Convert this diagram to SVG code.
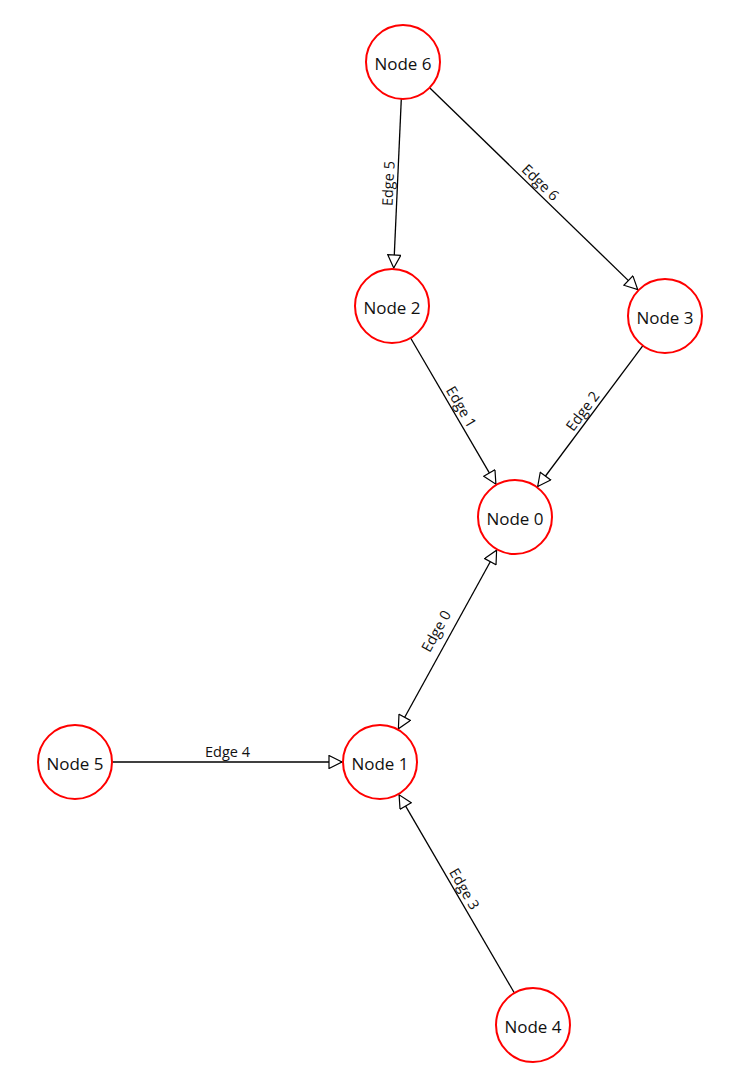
<svg xmlns="http://www.w3.org/2000/svg" width="747" height="1090" viewBox="0 0 747 1090">
<style>
.node circle{fill:#fff;stroke:#f00;stroke-width:2}
.node text{font-family:"Open Sans","Noto Sans",sans-serif;font-size:17px;fill:#111;text-anchor:middle;dominant-baseline:central}
.edge line{stroke:#000;stroke-width:1.3;fill:none}
.edge text{font-family:"Open Sans","Noto Sans",sans-serif;font-size:14.5px;fill:#111;text-anchor:middle}
</style>
<defs>
<marker id="arr" markerUnits="userSpaceOnUse" markerWidth="16" markerHeight="14" refX="13" refY="6.5" orient="auto-start-reverse" viewBox="-1 -0.5 16 14">
<path d="M0,0 L13,6.5 L0,13 Z" fill="#fff" stroke="#000" stroke-width="1.2"/>
</marker>
</defs>
<rect width="747" height="1090" fill="#fff"/>
<g id="edges">
<g class="edge" id="edge5"><line x1="401.3" y1="99" x2="393.7" y2="268" marker-end="url(#arr)"/><text transform="translate(397.5,184) rotate(-87.42)" y="-4">Edge 5</text></g>
<g class="edge" id="edge6"><line x1="429.6" y1="87.8" x2="637.7" y2="289.6" marker-end="url(#arr)"/><text transform="translate(534,189) rotate(44.11)" y="-4">Edge 6</text></g>
<g class="edge" id="edge1"><line x1="410.6" y1="338" x2="495.9" y2="484.2" marker-end="url(#arr)"/><text transform="translate(453.5,411.5) rotate(59.76)" y="-4">Edge 1</text></g>
<g class="edge" id="edge2"><line x1="642.9" y1="345.6" x2="537.7" y2="486.5" marker-end="url(#arr)"/><text transform="translate(590,416.5) rotate(-53.27)" y="-4">Edge 2</text></g>
<g class="edge" id="edge0"><line x1="496.6" y1="550.3" x2="398.4" y2="728.7" marker-start="url(#arr)" marker-end="url(#arr)"/><text transform="translate(445,636) rotate(-61.15)" y="-5">Edge 0</text></g>
<g class="edge" id="edge4"><line x1="112" y1="762" x2="342" y2="762" marker-end="url(#arr)"/><text transform="translate(227.5,762)" y="-5">Edge 4</text></g>
<g class="edge" id="edge3"><line x1="514.4" y1="993" x2="399.1" y2="794.8" marker-end="url(#arr)"/><text transform="translate(456.5,893.5) rotate(59.81)" y="-4">Edge 3</text></g>
</g>
<g class="node" id="node6"><circle cx="403" cy="62" r="37"/><text x="403" y="63">Node 6</text></g>
<g class="node" id="node2"><circle cx="392" cy="306" r="37"/><text x="392" y="307">Node 2</text></g>
<g class="node" id="node3"><circle cx="665" cy="316" r="37"/><text x="665" y="317">Node 3</text></g>
<g class="node" id="node0"><circle cx="515" cy="517" r="37"/><text x="515" y="518">Node 0</text></g>
<g class="node" id="node1"><circle cx="380" cy="762" r="37"/><text x="380" y="763">Node 1</text></g>
<g class="node" id="node5"><circle cx="75" cy="762" r="37"/><text x="75" y="763">Node 5</text></g>
<g class="node" id="node4"><circle cx="533" cy="1025" r="37"/><text x="533" y="1026">Node 4</text></g>
</svg>
